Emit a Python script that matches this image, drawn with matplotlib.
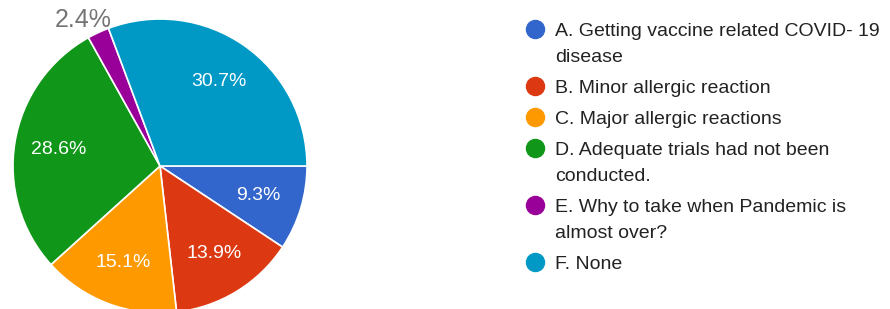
import matplotlib
matplotlib.use("Agg")
import matplotlib.pyplot as plt
import numpy as np

plt.rcParams['font.family'] = ['Liberation Sans', 'DejaVu Sans']

categories = [
    "A. Getting vaccine related COVID- 19\ndisease",
    "B. Minor allergic reaction",
    "C. Major allergic reactions",
    "D. Adequate trials had not been\nconducted.",
    "E. Why to take when Pandemic is\nalmost over?",
    "F. None",
]
values = [9.3, 13.9, 15.1, 28.6, 2.4, 30.7]
colors = ["#3366CC", "#DC3912", "#FF9900", "#109618", "#990099", "#0099C6"]

W, H = 890, 309
fig = plt.figure(figsize=(W / 100, H / 100), dpi=100)

# pie axes: center (160,166) px, radius 147 px
cx, cy, r = 160, 166, 147
ax = fig.add_axes([(cx - r) / W, (H - cy - r) / H, 2 * r / W, 2 * r / H])
wedges, texts, autotexts = ax.pie(
    values, colors=colors, startangle=0, counterclock=False,
    autopct=lambda p: f"{p:.1f}%", pctdistance=0.70,
    wedgeprops=dict(edgecolor="white", linewidth=1.2),
    textprops=dict(color="white", fontsize=14),
    radius=1.0,
)
ax.set_xlim(-1, 1)
ax.set_ylim(-1, 1)
ax.set_aspect("equal")
ax.axis("off")

# small slice label outside, grey
for w, t, v in zip(wedges, autotexts, values):
    if v < 5:
        ang = np.deg2rad((w.theta1 + w.theta2) / 2 + 3)
        t.set_position((1.12 * np.cos(ang), 1.12 * np.sin(ang)))
        t.set_color("#757575")
        t.set_fontsize(18)
        t.set_clip_on(False)

# legend in pixel coordinates
lax = fig.add_axes([0, 0, 1, 1])
lax.set_xlim(0, W)
lax.set_ylim(H, 0)
lax.axis("off")

baseline = 36
for lab, col in zip(categories, colors):
    lines = lab.split("\n")
    lax.plot([535], [baseline - 7], "o", ms=13, color=col, clip_on=False)
    b = baseline
    for ln in lines:
        lax.text(555, b, ln, fontsize=14, color="#222222", va="baseline", ha="left")
        b += 26
    baseline = b - 26 + 31

fig.savefig("out.png", dpi=100, facecolor="white")
